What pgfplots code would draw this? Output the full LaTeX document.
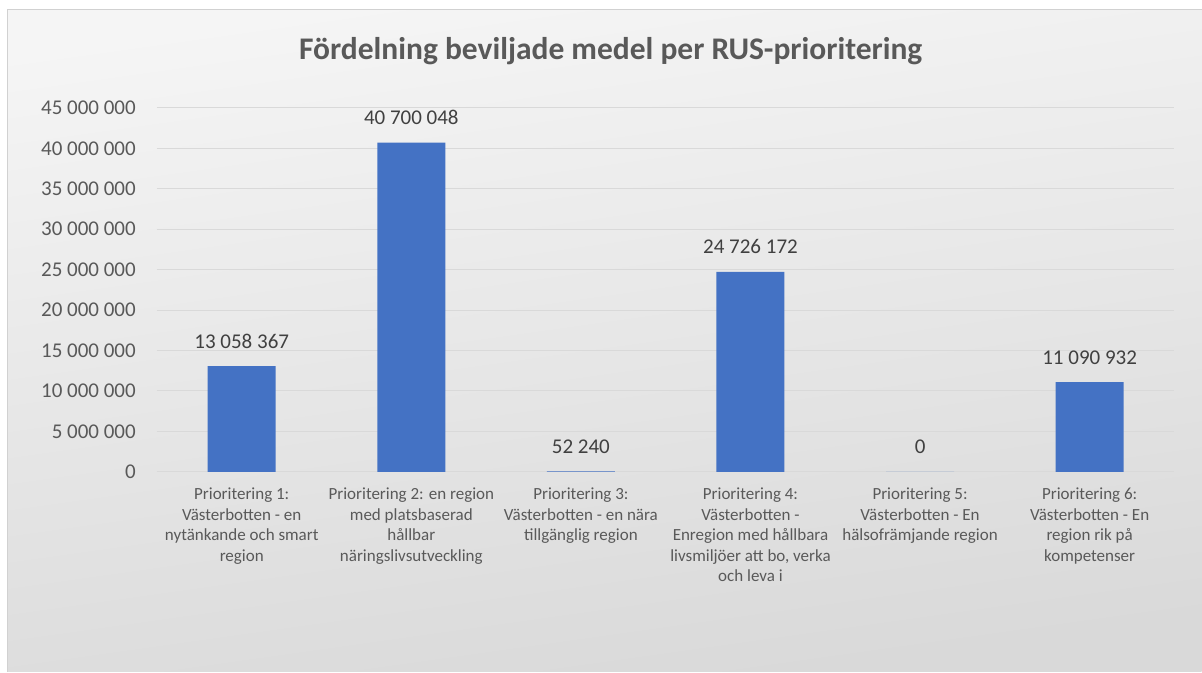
\documentclass[border=0pt]{standalone}
\usepackage{pgfplots}
\pgfplotsset{compat=1.18}
\usepackage{fontspec}
\setmainfont{Carlito}
\definecolor{barblue}{HTML}{4472C4}
\definecolor{txtgrey}{HTML}{595959}
\definecolor{lblgrey}{HTML}{404040}
\definecolor{gridgrey}{HTML}{D9D9D9}
\newcommand\ts{\hskip\fontdimen2\font\relax}
\begin{document}
\begin{tikzpicture}[x=1bp,y=1bp]
\fill[white] (0,0) rectangle (1202,672);
\shade[shading=axis, top color=black!4, bottom color=black!15, shading angle=8] (8,0) rectangle (1202,662.5);
\draw[black!18, line width=1bp] (8,0) -- (8,662.5) -- (1202,662.5);
\node[font=\fontsize{31.5bp}{36bp}\selectfont\bfseries, text=txtgrey] at (611,621) {Fördelning beviljade medel per RUS-prioritering};
\begin{axis}[
  at={(157bp,200bp)}, anchor=south west,
  scale only axis, width=1018bp, height=364bp,
  xmin=-0.5, xmax=5.5, ymin=0, ymax=45000000,
  axis line style={draw=none},
  major tick length=0pt,
  scaled y ticks=false,
  ymajorgrids, grid style={gridgrey, line width=1bp},
  ytick={0,5000000,10000000,15000000,20000000,25000000,30000000,35000000,40000000,45000000},
  yticklabels={0,5\ts000\ts000,10\ts000\ts000,15\ts000\ts000,20\ts000\ts000,25\ts000\ts000,30\ts000\ts000,35\ts000\ts000,40\ts000\ts000,45\ts000\ts000},
  yticklabel style={font=\fontsize{21bp}{25bp}\selectfont, text=txtgrey, inner sep=0pt, xshift=-21bp, anchor=east},
  /pgf/number format/assume math mode=true,
  xtick={0,1,2,3,4,5},
  xticklabels={
    {Prioritering 1:\\Västerbotten - en\\nytänkande och smart\\region},
    {Prioritering 2: en region\\med platsbaserad\\hållbar\\näringslivsutveckling},
    {Prioritering 3:\\Västerbotten - en nära\\tillgänglig region},
    {Prioritering 4:\\Västerbotten -\\Enregion med hållbara\\livsmiljöer att bo, verka\\och leva i},
    {Prioritering 5:\\Västerbotten - En\\hälsofrämjande region},
    {Prioritering 6:\\Västerbotten - En\\region rik på\\kompetenser}},
  xticklabel style={font=\fontsize{17bp}{20.5bp}\selectfont, text=txtgrey, align=center, anchor=north, inner sep=0pt, yshift=-16bp},
  ybar, bar width=68bp,
  point meta=explicit symbolic,
  nodes near coords,
  nodes near coords style={font=\fontsize{21bp}{25bp}\selectfont, text=lblgrey, anchor=base, inner sep=0pt, yshift=18bp},
  clip=false,
]
\addplot[fill=barblue, draw=none] coordinates {
  (0,13058367) [13\ts058\ts367]
  (1,40700048) [40\ts700\ts048]
  (2,52240) [52\ts240]
  (3,24726172) [24\ts726\ts172]
  (4,0) [0]
  (5,11090932) [11\ts090\ts932]
};
\end{axis}
\end{tikzpicture}
\end{document}
